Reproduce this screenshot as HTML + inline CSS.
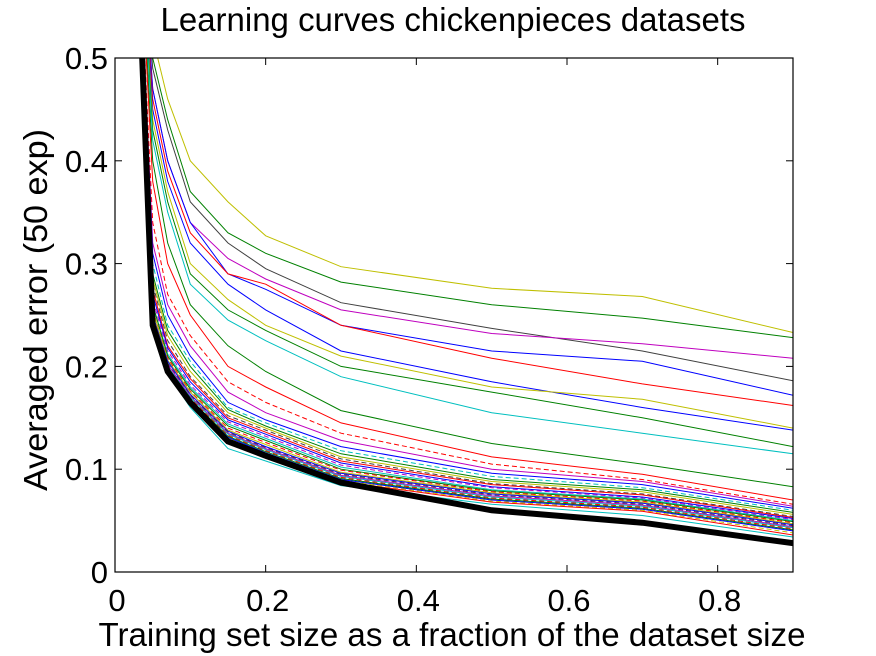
<!DOCTYPE html>
<html><head><meta charset="utf-8"><style>
html,body{margin:0;padding:0;background:#fff;}
svg{display:block;font-family:"Liberation Sans",Arial,sans-serif;}
</style></head><body>
<svg id="chart" width="876" height="656" viewBox="0 0 876 656">
<rect x="0" y="0" width="876" height="656" fill="#fff"/>
<text x="453" y="31" font-size="33" text-anchor="middle" textLength="585" lengthAdjust="spacingAndGlyphs">Learning curves chickenpieces datasets</text>
<text x="452" y="646" font-size="33" text-anchor="middle" textLength="707" lengthAdjust="spacingAndGlyphs">Training set size as a fraction of the dataset size</text>
<text transform="translate(47,310) rotate(-90)" font-size="33" text-anchor="middle" textLength="362" lengthAdjust="spacingAndGlyphs">Averaged error (50 exp)</text>
<defs><clipPath id="plotclip"><rect x="115" y="58" width="678" height="514"/></clipPath></defs>
<g id="series" clip-path="url(#plotclip)"></g>
<g id="axes"></g>
</svg>
<script>
const xVals=[0.02,0.05,0.07,0.1,0.15,0.2,0.3,0.5,0.7,0.9];
const seriesColors=["#bfbf00","#008000","#404040","#bf00bf","#0000ff","#ff0000","#0000ff","#bfbf00","#008000","#00bfbf","#008000","#ff0000",
"#ff0000","#bf00bf","#0000ff","#00bfbf","#008000","#bfbf00","#404040","#ff0000","#0000ff","#bf00bf","#00bfbf","#008000","#ff0000","#bfbf00","#0000ff","#404040","#bf00bf","#00bfbf","#ff0000","#008000","#0000ff","#bfbf00","#ff0000","#00bfbf"];
const seriesValues=[
[0.8,0.52,0.46,0.40,0.36,0.327,0.297,0.276,0.268,0.233],
[0.8,0.50,0.44,0.37,0.33,0.31,0.282,0.26,0.247,0.228],
[0.8,0.49,0.43,0.36,0.32,0.295,0.262,0.237,0.215,0.186],
[0.8,0.47,0.40,0.34,0.305,0.285,0.255,0.232,0.222,0.208],
[0.8,0.47,0.40,0.34,0.29,0.275,0.24,0.215,0.205,0.172],
[0.8,0.46,0.39,0.33,0.29,0.28,0.24,0.208,0.183,0.162],
[0.8,0.45,0.38,0.32,0.28,0.255,0.215,0.185,0.16,0.138],
[0.8,0.44,0.37,0.30,0.265,0.24,0.21,0.18,0.168,0.14],
[0.8,0.43,0.36,0.29,0.255,0.235,0.20,0.175,0.15,0.122],
[0.8,0.42,0.35,0.28,0.245,0.225,0.19,0.155,0.135,0.115],
[0.8,0.40,0.32,0.26,0.22,0.195,0.157,0.125,0.105,0.083],
[0.8,0.38,0.30,0.25,0.20,0.18,0.145,0.112,0.095,0.07],
[0.8,0.34,0.27,0.23,0.185,0.165,0.135,0.105,0.09,0.066],
[0.8,0.32,0.26,0.22,0.175,0.155,0.128,0.10,0.088,0.064],
[0.8,0.31,0.25,0.21,0.165,0.148,0.122,0.096,0.085,0.062],
[0.8,0.30,0.24,0.205,0.16,0.145,0.118,0.093,0.082,0.060],
[0.8,0.29,0.235,0.20,0.158,0.142,0.115,0.09,0.08,0.058],
[0.8,0.285,0.23,0.195,0.155,0.14,0.112,0.088,0.078,0.056],
[0.8,0.28,0.225,0.19,0.152,0.138,0.11,0.086,0.076,0.054],
[0.8,0.275,0.22,0.188,0.15,0.136,0.108,0.085,0.075,0.053],
[0.8,0.27,0.218,0.185,0.148,0.134,0.106,0.083,0.073,0.052],
[0.8,0.265,0.215,0.182,0.146,0.132,0.104,0.082,0.072,0.051],
[0.8,0.26,0.212,0.18,0.144,0.13,0.102,0.08,0.071,0.05],
[0.8,0.26,0.21,0.178,0.142,0.128,0.10,0.079,0.07,0.049],
[0.8,0.255,0.208,0.176,0.14,0.126,0.099,0.078,0.069,0.048],
[0.8,0.255,0.206,0.175,0.138,0.124,0.097,0.077,0.068,0.047],
[0.8,0.25,0.205,0.173,0.137,0.122,0.096,0.076,0.067,0.046],
[0.8,0.25,0.203,0.172,0.136,0.121,0.095,0.075,0.066,0.045],
[0.8,0.248,0.202,0.171,0.135,0.12,0.094,0.074,0.065,0.044],
[0.8,0.246,0.2,0.17,0.134,0.119,0.093,0.073,0.064,0.043],
[0.8,0.245,0.199,0.169,0.133,0.118,0.092,0.072,0.063,0.042],
[0.8,0.244,0.198,0.168,0.132,0.117,0.091,0.071,0.062,0.041],
[0.8,0.243,0.197,0.167,0.131,0.116,0.09,0.07,0.061,0.04],
[0.8,0.242,0.196,0.166,0.13,0.115,0.089,0.069,0.06,0.038],
[0.8,0.24,0.195,0.165,0.128,0.114,0.088,0.068,0.059,0.036],
[0.8,0.238,0.193,0.16,0.12,0.108,0.084,0.066,0.055,0.034]
];
const meanValues=[0.8,0.24,0.195,0.165,0.127,0.113,0.087,0.06,0.048,0.028];
const xTicks=[0,0.2,0.4,0.6,0.8];
const xTickLabels=["0","0.2","0.4","0.6","0.8"];
const yTicks=[0,0.1,0.2,0.3,0.4,0.5];
const yTickLabels=["0","0.1","0.2","0.3","0.4","0.5"];

const X0=115,X1=793,Y0=572,Y1=58;
function sx(v){return X0+v*(X1-X0)/0.9;}
function sy(v){return Y0-v*(Y0-Y1)/0.5;}
const NS="http://www.w3.org/2000/svg";
const g=document.getElementById('series');
function pathOf(vals){return vals.map((v,i)=>(i?'L':'M')+sx(xVals[i]).toFixed(1)+','+sy(v).toFixed(1)).join(' ');}
seriesValues.forEach((vals,i)=>{
  const p=document.createElementNS(NS,'path');
  
  
  p.setAttribute('d',pathOf(vals));
  p.setAttribute('fill','none');
  p.setAttribute('stroke',seriesColors[i%seriesColors.length]);
  p.setAttribute('stroke-width','1');
  if(i>=12&&i%3===0)p.setAttribute('stroke-dasharray','5,3');
  g.appendChild(p);
});
const m=document.createElementNS(NS,'path');


m.setAttribute('d',pathOf(meanValues));
m.setAttribute('fill','none');
m.setAttribute('stroke','#000');
m.setAttribute('stroke-width','6');
g.appendChild(m);

const ax=document.getElementById('axes');
const box=document.createElementNS(NS,'rect');


box.setAttribute('x',X0);box.setAttribute('y',Y1);box.setAttribute('width',X1-X0);box.setAttribute('height',Y0-Y1);
box.setAttribute('fill','none');box.setAttribute('stroke','#000');box.setAttribute('stroke-width','1.2');
ax.appendChild(box);
xTicks.forEach((t,i)=>{
  const x=sx(t);
  [[Y0,Y0-7],[Y1,Y1+7]].forEach(([a,b])=>{
    const l=document.createElementNS(NS,'line');
    
    
    l.setAttribute('x1',x);l.setAttribute('x2',x);l.setAttribute('y1',a);l.setAttribute('y2',b);
    l.setAttribute('stroke','#000');ax.appendChild(l);
  });
  const tx=document.createElementNS(NS,'text');
  
  
  tx.setAttribute('x',x+2);tx.setAttribute('y',611);tx.setAttribute('font-size','31');tx.setAttribute('text-anchor','middle');
  tx.textContent=xTickLabels[i];ax.appendChild(tx);
});
yTicks.forEach((t,i)=>{
  const y=sy(t);
  [[X0,X0+7],[X1,X1-7]].forEach(([a,b])=>{
    const l=document.createElementNS(NS,'line');
    
    
    l.setAttribute('x1',a);l.setAttribute('x2',b);l.setAttribute('y1',y);l.setAttribute('y2',y);
    l.setAttribute('stroke','#000');ax.appendChild(l);
  });
  const tx=document.createElementNS(NS,'text');
  
  
  tx.setAttribute('x',108);tx.setAttribute('y',y+11);tx.setAttribute('font-size','31');tx.setAttribute('text-anchor','end');
  tx.textContent=yTickLabels[i];ax.appendChild(tx);
});
</script>
</body></html>
